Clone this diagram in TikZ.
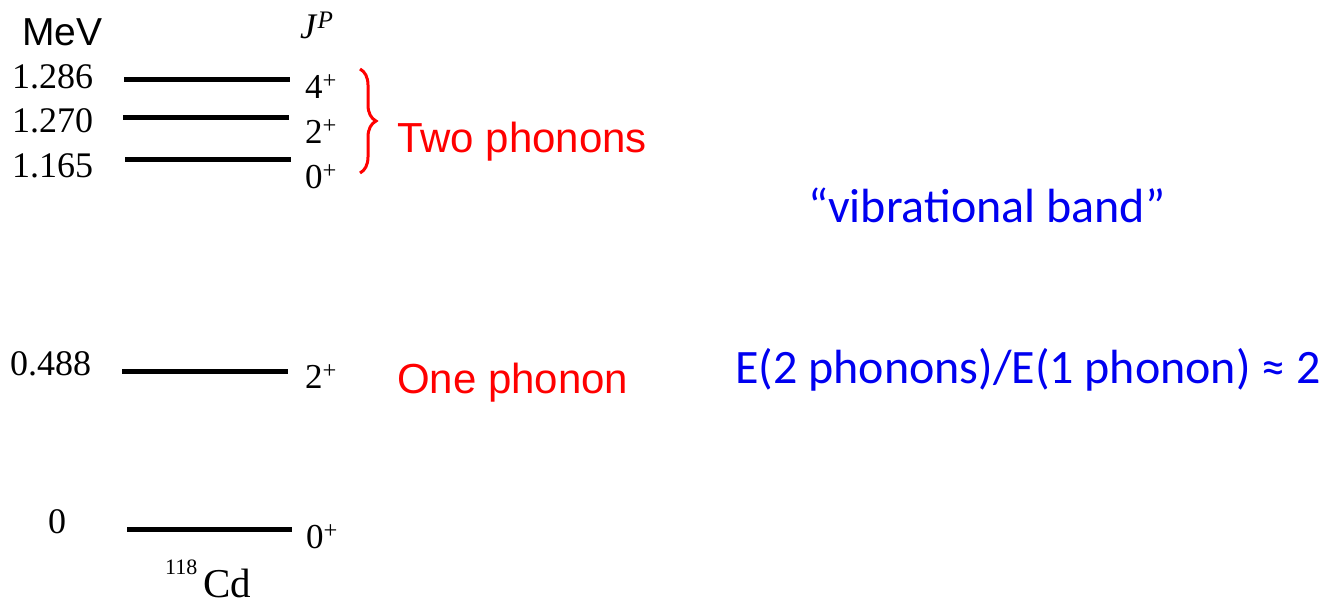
\documentclass[tikz,border=0pt]{standalone}
\usepackage{fontspec}
\setmainfont{Liberation Serif}
\newfontfamily\arialf{Liberation Sans}
\newfontfamily\calf{Carlito}
\usetikzlibrary{decorations.pathreplacing}
\definecolor{lblue}{RGB}{0,0,240}
\definecolor{lred}{RGB}{255,0,0}
\begin{document}
\begin{tikzpicture}[x=1pt,y=-1pt,
  level/.style={line width=5pt},
  energy/.style={anchor=base west,inner sep=0pt,font=\fontsize{36}{40}\selectfont},
  spin/.style={anchor=base west,inner sep=0pt,font=\fontsize{35}{38}\selectfont},
  redlab/.style={anchor=base west,inner sep=0pt,text=lred,font=\arialf\fontsize{42}{46}\selectfont},
  bluelab/.style={anchor=base west,inner sep=0pt,text=lblue,font=\calf\fontsize{48}{52}\selectfont}]
\useasboundingbox (0,0) rectangle (1325,598);
% header
\node[anchor=base west,inner sep=0pt,font=\arialf\fontsize{39}{44}\selectfont] (mev) at (22,45) {MeV};
\node[anchor=base west,inner sep=0pt,font=\fontsize{36}{38}\selectfont] (jp) at (300,38) {\textit{J}\textsuperscript{\textit{P}}};
% levels
\coordinate (a1) at (124,79);  \coordinate (a2) at (290,79);
\coordinate (b1) at (123,117); \coordinate (b2) at (289,117);
\coordinate (c1) at (125,159); \coordinate (c2) at (291,159);
\coordinate (d1) at (122,371); \coordinate (d2) at (288,371);
\coordinate (e1) at (127,529); \coordinate (e2) at (292,529);
\draw[level] (a1) -- (a2);
\draw[level] (b1) -- (b2);
\draw[level] (c1) -- (c2);
\draw[level] (d1) -- (d2);
\draw[level] (e1) -- (e2);
% energies
\node[energy] (ea) at (12,88) {1.286};
\node[energy] (eb) at (12,132) {1.270};
\node[energy] (ec) at (12,177) {1.165};
\node[energy] (ed) at (10,375) {0.488};
\node[energy] (ee) at (48,533) {0};
% spins
\node[spin] (sa) at (305,98) {4\textsuperscript{+}};
\node[spin] (sb) at (305,143) {2\textsuperscript{+}};
\node[spin] (sc) at (305,188) {0\textsuperscript{+}};
\node[spin] (sd) at (305,388) {2\textsuperscript{+}};
\node[spin] (se) at (306,548) {0\textsuperscript{+}};
% brace
\coordinate (br1) at (360,69);
\coordinate (br2) at (360,173);
\draw[lred,line width=3pt,decorate,decoration={brace,amplitude=16pt}] (br1) -- (br2);
% labels
\node[redlab] (two) at (397,152) {Two phonons};
\node[redlab] (one) at (397,393) {One phonon};
\node[bluelab] (vib) at (808,222) {“vibrational band”};
\node[bluelab] (ratio) at (735,383) {E(2 phonons)/E(1 phonon) ≈ 2};
% nucleus
\node[anchor=base west,inner sep=0pt,font=\fontsize{41}{44}\selectfont] (cd) at (165,597) {\raisebox{0.55em}{\fontsize{22}{24}\selectfont 118}\hspace{6pt}Cd};
\end{tikzpicture}
\end{document}
